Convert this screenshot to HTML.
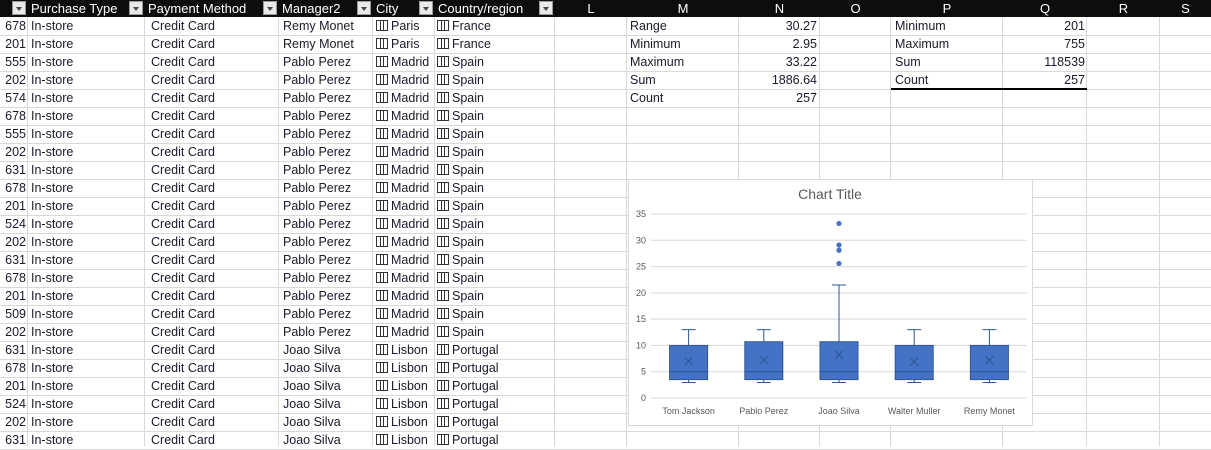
<!DOCTYPE html>
<html><head><meta charset="utf-8">
<style>
body{margin:0;width:1211px;height:446px;overflow:hidden;background:#fff;font-family:"Liberation Sans",sans-serif;position:relative}
.c{position:absolute;font-size:12.5px;color:#1a1a2a;white-space:nowrap;line-height:18px}
.vl{position:absolute;top:17px;bottom:0;width:1px;background:#d9d9d9}
.hl{position:absolute;left:0;right:0;height:1px;background:#d9d9d9}
#hdr{position:absolute;left:0;top:0;width:1211px;height:17px;background:#0d0d0d}
.h{position:absolute;top:0;height:17px;line-height:17px;color:#fff;font-size:13px}
.dd{position:absolute;top:1px;width:14px;height:14px;background:#e9e9e9;border:1px solid #999;box-sizing:border-box}
.dd:after{content:"";position:absolute;left:3px;top:5px;border:3px solid transparent;border-top:4px solid #444}
</style></head><body>
<div id="hdr"></div>
<div id="grid"></div>
<svg id="chart" style="position:absolute;left:628px;top:179px" width="405" height="247"></svg>
<script>
const cols=[0,28,145,279,373,435,555,627,739,820,891,1003,1087,1160,1211];
const hdrLabels=["","Purchase Type","Payment Method","Manager2","City","Country/region","L","M","N","O","P","Q","R","S"];
const hdr=document.getElementById('hdr');
const grid=document.getElementById('grid');
for(let i=0;i<hdrLabels.length;i++){
  const x0=cols[i],x1=cols[i+1];
  const h=document.createElement('div');h.className='h';
  
  
  if(i>=1&&i<=5){h.style.left=(x0+3)+'px';h.textContent=hdrLabels[i];}
  else{h.style.left=x0+'px';h.style.width=(x1-x0)+'px';h.style.textAlign='center';h.textContent=hdrLabels[i];}
  hdr.appendChild(h);
  if(i<=5){const d=document.createElement('div');d.className='dd';d.style.left=(x1-16)+'px';
    
    
    hdr.appendChild(d);}
  if(i>0){const v=document.createElement('div');v.className='vl';v.style.left=(x0-1)+'px';grid.appendChild(v);}
}
for(let r=0;r<24;r++){const l=document.createElement('div');l.className='hl';l.style.top=(35+18*r)+'px';grid.appendChild(l);}
const ids=[678,201,555,202,574,678,555,202,631,678,201,524,202,631,678,201,509,202,631,678,201,524,202,631];
const mgr=["Remy Monet","Remy Monet"].concat(Array(16).fill("Pablo Perez")).concat(Array(6).fill("Joao Silva"));
const icon='<span style="display:inline-block;width:10px;height:9px;border:1px solid #333;margin-right:3px;vertical-align:-1px;background:linear-gradient(90deg,transparent 3px,#333 3px,#333 4px,transparent 4px,transparent 6px,#333 6px,#333 7px,transparent 7px)"></span>';
function cell(x,y,t,opts){const d=document.createElement('div');d.className='c';d.style.top=y+'px';
  if(opts&&opts.right){d.style.left=(opts.right-200)+'px';d.style.width='200px';d.style.textAlign='right';}else d.style.left=x+'px';
  if(opts&&opts.icon)d.innerHTML=icon+t;else d.textContent=t;
  
  
  grid.appendChild(d);return d;}
for(let r=0;r<24;r++){
  const y=17+18*r;const m=mgr[r];
  const city=m==="Remy Monet"?"Paris":m==="Pablo Perez"?"Madrid":"Lisbon";
  const ctry=m==="Remy Monet"?"France":m==="Pablo Perez"?"Spain":"Portugal";
  cell(0,y,String(ids[r]),{right:26});
  cell(31,y,"In-store");cell(151,y,"Credit Card");cell(283,y,m);
  cell(376,y,city,{icon:1});
  cell(437,y,ctry,{icon:1});
}
const st1=[["Range","30.27"],["Minimum","2.95"],["Maximum","33.22"],["Sum","1886.64"],["Count","257"]];
st1.forEach((s,i)=>{cell(630,17+18*i,s[0]);cell(0,17+18*i,s[1],{right:817});});
const st2=[["Minimum","201"],["Maximum","755"],["Sum","118539"],["Count","257"]];
st2.forEach((s,i)=>{cell(895,17+18*i,s[0]);cell(0,17+18*i,s[1],{right:1085});});
const bl=document.createElement('div');bl.style.cssText='position:absolute;left:891px;top:88px;width:196px;height:2px;background:#000';


grid.appendChild(bl);
</script>
<script>
const categories=["Tom Jackson","Pablo Perez","Joao Silva","Walter Muller","Remy Monet"];
const mins=[2.95,2.95,2.95,2.95,2.95];
const q1s=[3.5,3.5,3.5,3.5,3.5];
const medians=[5,5,5,5,5];
const q3s=[10,10.7,10.7,10,10];
const maxs=[13,13,21.5,13,13];
const means=[7,7.2,8.2,6.9,7.2];
const outliers=[[],[],[25.6,28.1,29.1,33.2],[],[]];
const yTicks=[0,5,10,15,20,25,30,35];
const svg=document.getElementById('chart');const NS="http://www.w3.org/2000/svg";
function el(t,a,name){const e=document.createElementNS(NS,t);for(const k in a)e.setAttribute(k,a[k]);
  
  
  svg.appendChild(e);return e;}
el('rect',{x:0.5,y:0.5,width:404,height:246,fill:'#fff',stroke:'#d9d9d9'},'chart-area');
const t=el('text',{x:202,y:20,'text-anchor':'middle','font-size':'14','fill':'#595959','font-family':'Liberation Sans, sans-serif'},'chart-title');t.textContent='Chart Title';
const px0=23,px1=399,py0=219,py35=35;
const yS=v=>py0-(py0-py35)*v/35;
const band=(px1-px0)/categories.length;
const xS=i=>px0+band*(i+0.5);
yTicks.forEach(v=>{el('line',{x1:px0,x2:px1,y1:yS(v),y2:yS(v),stroke:'#d9d9d9'},'gridline');
  const l=el('text',{x:px0-5,y:yS(v)+3,'text-anchor':'end','font-size':'9','fill':'#595959','font-family':'Liberation Sans, sans-serif'},'y-tick-label');l.textContent=v;});
categories.forEach((c,i)=>{const x=xS(i),w=38,col='#4472c4',dk='#2f5597';
  el('line',{x1:x,x2:x,y1:yS(maxs[i]),y2:yS(q3s[i]),stroke:dk},'whisker-upper');
  el('line',{x1:x-7,x2:x+7,y1:yS(maxs[i]),y2:yS(maxs[i]),stroke:dk},'whisker-cap');
  el('line',{x1:x,x2:x,y1:yS(q1s[i]),y2:yS(mins[i]),stroke:dk},'whisker-lower');
  el('line',{x1:x-7,x2:x+7,y1:yS(mins[i]),y2:yS(mins[i]),stroke:dk},'whisker-cap');
  el('rect',{x:x-w/2,y:yS(q3s[i]),width:w,height:yS(q1s[i])-yS(q3s[i]),fill:col,stroke:dk},'box-'+i);
  el('line',{x1:x-w/2,x2:x+w/2,y1:yS(medians[i]),y2:yS(medians[i]),stroke:dk},'median-line');
  const my=yS(means[i]);
  el('path',{d:`M${x-4} ${my-4}L${x+4} ${my+4}M${x-4} ${my+4}L${x+4} ${my-4}`,stroke:'#2f5597','stroke-width':1},'mean-marker');
  outliers[i].forEach(o=>el('circle',{cx:x,cy:yS(o),r:2.6,fill:col},'outlier-point'));
  const l=el('text',{x:x,y:235,'text-anchor':'middle','font-size':'9','fill':'#595959','font-family':'Liberation Sans, sans-serif'},'x-category-label');l.textContent=c;
});
</script>
</body></html>
